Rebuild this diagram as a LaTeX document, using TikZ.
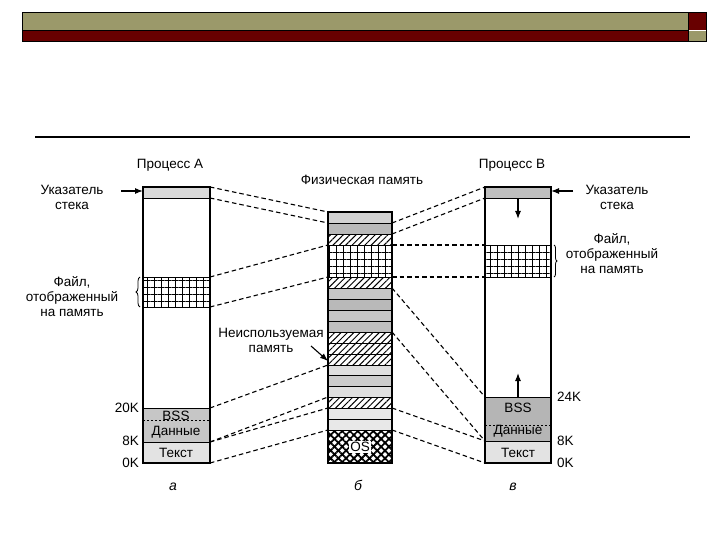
\documentclass[tikz,border=0pt]{standalone}
\usepackage{fontspec}
\setmainfont{Liberation Sans}
\usepackage{tikz}
\usetikzlibrary{patterns.meta,arrows.meta,decorations.pathreplacing}

\definecolor{olivebar}{RGB}{155,153,106}
\definecolor{redbar}{RGB}{104,0,0}

\tikzset{
  lbl/.style={font=\fontsize{13.5}{15}\selectfont, align=center, inner sep=0pt},
  sublbl/.style={font=\fontsize{14}{16}\selectfont\itshape, inner sep=0pt},
  mapline/.style={dash pattern=on 4.5pt off 3pt, line width=1.1pt},
  hatchfill/.style={pattern={Lines[angle=45,distance=4.5pt,line width=1pt]}},
  gridfill/.style={pattern={Hatch[angle=0,distance=7pt,line width=1pt]}},
  osfill/.style={pattern={Hatch[angle=45,distance=5.5pt,line width=1.8pt]}},
  ptr/.style={-{Latex[length=8pt,width=6pt]}, line width=1.1pt},
}

\begin{document}
\begin{tikzpicture}[x=1pt, y=-1pt]
  \useasboundingbox (0,0) rectangle (720,540);

  % Slide header bars
  \fill[olivebar] (22,12) rectangle (688,30);
  \fill[redbar] (22,30) rectangle (688,41);
  \fill[redbar] (688,12) rectangle (706,30);
  \fill[olivebar] (689,31) rectangle (706,41);
  \draw[line width=0.6pt] (22,12) rectangle (688,30);
  \draw[line width=0.6pt] (22,30) rectangle (688,41);
  \draw[line width=0.6pt] (688,12) rectangle (706,41);
  \draw[line width=1.2pt] (35,137) -- (690,137);

  % Process A (x 143..210)
  \fill[gray!30] (143,187) rectangle (210,198);   % stack
  \fill[gridfill] (143,277) rectangle (210,307);  % mapped file
  \fill[gray!45] (143,408) rectangle (210,442);   % BSS + data
  \fill[gray!22] (143,442) rectangle (210,463);   % text
  \draw[line width=1.2pt] (143,187) rectangle (210,463);
  \draw[line width=0.9pt] (143,198) -- (210,198);
  \draw[line width=0.9pt] (143,277) -- (210,277);
  \draw[line width=0.9pt] (143,307) -- (210,307);
  \draw[line width=0.9pt] (143,408) -- (210,408);
  \draw[line width=0.9pt] (143,442) -- (210,442);
  \draw[line width=0.7pt, dash pattern=on 2pt off 2pt] (143,420) -- (210,420);

  % Process B (x 485..551)
  \fill[gray!50] (485,187) rectangle (551,198);   % stack
  \fill[gridfill] (485,245) rectangle (551,277);  % mapped file
  \fill[gray!58] (485,397) rectangle (551,441);   % BSS + data
  \fill[gray!22] (485,441) rectangle (551,463);   % text
  \draw[line width=1.2pt] (485,187) rectangle (551,463);
  \draw[line width=0.9pt] (485,198) -- (551,198);
  \draw[line width=0.9pt] (485,245) -- (551,245);
  \draw[line width=0.9pt] (485,277) -- (551,277);
  \draw[line width=0.9pt] (485,397) -- (551,397);
  \draw[line width=0.9pt] (485,441) -- (551,441);
  \draw[line width=0.7pt, dash pattern=on 2pt off 2pt] (485,425) -- (551,425);

  % Physical memory (x 328..392), stripes of about 11
  \fill[gray!35] (328,212) rectangle (392,223);
  \fill[gray!55] (328,223) rectangle (392,234);
  \fill[hatchfill] (328,234) rectangle (392,245);
  \fill[gridfill] (328,245) rectangle (392,277);
  \fill[hatchfill] (328,277) rectangle (392,288);
  \fill[gray!45] (328,288) rectangle (392,299);
  \fill[gray!55] (328,299) rectangle (392,310);
  \fill[gray!45] (328,310) rectangle (392,321);
  \fill[gray!50] (328,321) rectangle (392,332);
  \fill[hatchfill] (328,332) rectangle (392,365);  % unused
  \fill[gray!25] (328,365) rectangle (392,375);
  \fill[gray!40] (328,375) rectangle (392,386);
  \fill[gray!25] (328,386) rectangle (392,397);
  \fill[hatchfill] (328,397) rectangle (392,408);
  \fill[gray!18] (328,408) rectangle (392,430);
  \fill[osfill] (328,430) rectangle (392,463);
  \foreach \yb in {223,234,245,277,288,299,310,321,332,343,354,365,375,386,397,408,419,430}
    \draw[line width=0.9pt] (328,\yb) -- (392,\yb);
  \draw[line width=1.2pt] (328,212) rectangle (392,463);
  \node[lbl, fill=white, inner sep=1pt] (os) at (360,447) {OS};

  % Column labels
  \node[lbl] (procA) at (170,165) {Процесс А};
  \node[lbl] (procB) at (512,165) {Процесс В};
  \node[lbl] (phys) at (362,180) {Физическая память};
  \node[sublbl] (subA) at (173,487) {а};
  \node[sublbl] (subB) at (358,485) {б};
  \node[sublbl] (subC) at (513,487) {в};

  % Segment labels
  \node[lbl] (bssA) at (176,416) {BSS};
  \node[lbl] (dataA) at (176,432) {Данные};
  \node[lbl] (textA) at (176,453) {Текст};
  \node[lbl] (bssB) at (518,408) {BSS};
  \node[lbl] (dataB) at (518,431) {Данные};
  \node[lbl] (textB) at (518,453) {Текст};

  % Addresses
  \node[lbl, anchor=east] (a20) at (139,408) {20K};
  \node[lbl, anchor=east] (a8) at (139,441) {8K};
  \node[lbl, anchor=east] (a0) at (139,463) {0K};
  \node[lbl, anchor=west] (b24) at (557,397) {24K};
  \node[lbl, anchor=west] (b8) at (557,441) {8K};
  \node[lbl, anchor=west] (b0) at (557,463) {0K};

  % Stack pointer and mapped file notes
  \node[lbl] (spA) at (72,197) {Указатель\\стека};
  \node[lbl] (spB) at (617,197) {Указатель\\стека};
  \node[lbl] (fileA) at (72,297) {Файл,\\отображенный\\на память};
  \node[lbl] (fileB) at (612,254) {Файл,\\отображенный\\на память};
  \node[lbl] (unused) at (271,340) {Неиспользуемая\\память};

  % Pointer arrows
  \coordinate (spAfrom) at (121,191); \coordinate (spAtip) at (143,191);
  \coordinate (spBfrom) at (573,191); \coordinate (spBtip) at (551,191);
  \coordinate (downfrom) at (518,199); \coordinate (downtip) at (518,219);
  \coordinate (upfrom) at (518,397);  \coordinate (uptip) at (518,373);
  \coordinate (unfrom) at (311,346);  \coordinate (untip) at (328,361);
  \draw[ptr] (spAfrom) -- (spAtip);
  \draw[ptr] (spBfrom) -- (spBtip);
  \draw[ptr] (downfrom) -- (downtip);
  \draw[ptr] (upfrom) -- (uptip);
  \draw[ptr] (unfrom) -- (untip);

  \draw[decorate, decoration={brace, amplitude=4pt}, line width=0.8pt]
    (140,307) -- (140,277);
  \draw[decorate, decoration={brace, amplitude=3pt}, line width=0.8pt]
    (554,245) -- (554,277);

  % Mapping ends
  \coordinate (aS1) at (210,187); \coordinate (aS2) at (210,198);
  \coordinate (aF1) at (210,277); \coordinate (aF2) at (210,307);
  \coordinate (aB) at (210,408);  \coordinate (aT) at (210,442);
  \coordinate (aZ) at (210,463);
  \coordinate (bS1) at (485,187); \coordinate (bS2) at (485,198);
  \coordinate (bF1) at (485,245); \coordinate (bF2) at (485,277);
  \coordinate (bB) at (485,397);  \coordinate (bT) at (485,441);
  \coordinate (bZ) at (485,463);

  % Dashed mapping lines, A side
  \draw[mapline] (aS1) -- (328,212);
  \draw[mapline] (aS2) -- (328,223);
  \draw[mapline] (aF1) -- (328,245);
  \draw[mapline] (aF2) -- (328,277);
  \draw[mapline] (aB) -- (328,365);
  \draw[mapline] (aT) -- (328,397);
  \draw[mapline] (aT) -- (328,408);
  \draw[mapline] (aZ) -- (328,430);

  % Dashed mapping lines, B side
  \draw[mapline] (392,223) -- (bS1);
  \draw[mapline] (392,234) -- (bS2);
  \draw[mapline] (392,245) -- (bF1);
  \draw[mapline] (392,277) -- (bF2);
  \draw[mapline] (392,288) -- (bB);
  \draw[mapline] (392,332) -- (bT);
  \draw[mapline] (392,408) -- (bT);
  \draw[mapline] (392,430) -- (bZ);
\end{tikzpicture}
\end{document}
